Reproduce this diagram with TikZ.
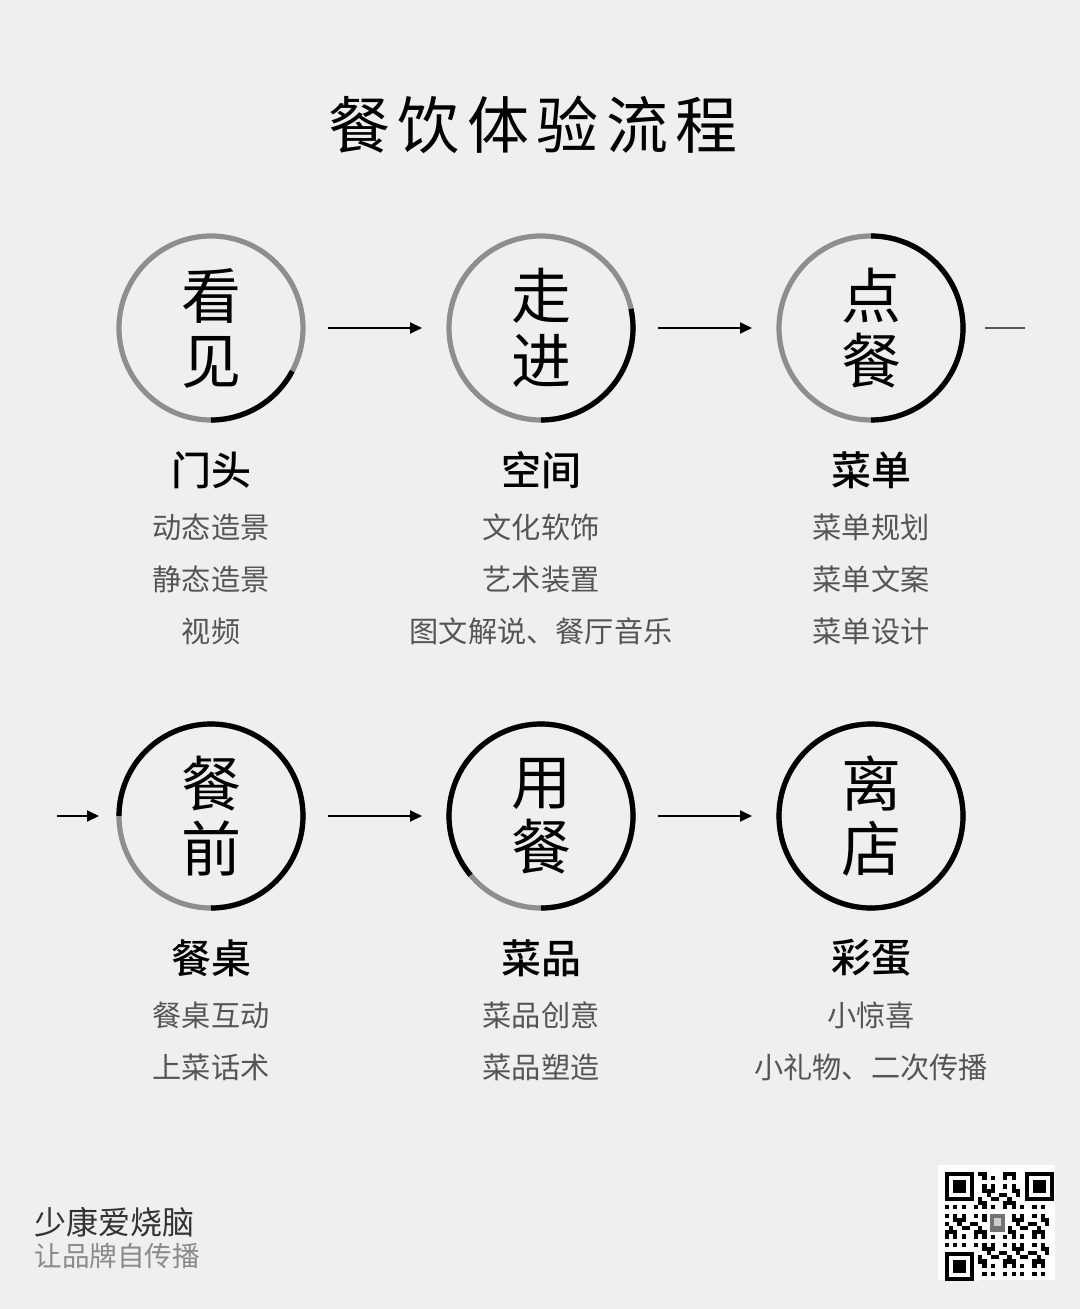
\documentclass[tikz,border=0pt]{standalone}
\usepackage{fontspec}
\setmainfont{Noto Sans CJK SC}
\newfontfamily\medfont{Noto Sans CJK SC Medium}
\usetikzlibrary{positioning, arrows.meta}
\definecolor{paper}{HTML}{EFEFEF}
\definecolor{ringgray}{HTML}{8E8E8E}
\definecolor{subgray}{HTML}{555555}
\definecolor{footgray}{HTML}{8A8A8A}

\begin{document}
\begin{tikzpicture}[x=0.5pt, y=-0.5pt,
  ring/.style={circle, draw=ringgray, line width=2.6pt, minimum size=92pt, inner sep=0pt,
    outer sep=0pt, align=center, font=\fontsize{30}{32.5}\selectfont},
  stage/.style={font=\medfont\fontsize{20}{22}\selectfont},
  item/.style={text=subgray, font=\fontsize{14.6}{16}\selectfont},
  flow/.style={line width=1pt, -{Triangle[length=6pt, width=5.5pt]}}]
\useasboundingbox[fill=paper] (0,0) rectangle (1080,1309);

% title
\node (title) at (533,125) {\fontsize{31}{34}\selectfont\addfontfeature{LetterSpace=12}餐饮体验流程};

% rings
\foreach \name/\px/\py/\ang/\txt in {c1/211/328/-28/看\\见, c2/541/328/12/走\\进, c3/871/328/90/点\\餐,
    c4/211/816/180/餐\\前, c5/541/816/220/用\\餐, c6/871/816/270/离\\店} {
  \node[ring] (\name) at (\px,\py) {\txt};
  \draw[line width=2.6pt] (\name.south) arc[start angle=-90, end angle=\ang, radius=46pt];
}

% arrows
\draw[flow, shorten <=12.5pt, shorten >=13.5pt] (c1) -- (c2);
\draw[flow, shorten <=12.5pt, shorten >=13.5pt] (c2) -- (c3);
\coordinate (stub) at (1025,328);
\draw[line width=1pt, subgray, shorten <=11pt] (c3.east) -- (stub);
\coordinate (stubin) at (57,816);
\draw[flow, shorten >=10pt] (stubin) -- (c4.west);
\draw[flow, shorten <=12.5pt, shorten >=13.5pt] (c4) -- (c5);
\draw[flow, shorten <=12.5pt, shorten >=13.5pt] (c5) -- (c6);

% stage labels and items
\node[stage] (s1) at (211,470) {门头};
\node[item] (s1a) at (211,527) {动态造景};
\node[item] (s1b) at (211,579) {静态造景};
\node[item] (s1c) at (211,631) {视频};
\node[stage] (s2) at (541,470) {空间};
\node[item] (s2a) at (541,527) {文化软饰};
\node[item] (s2b) at (541,579) {艺术装置};
\node[item] (s2c) at (541,631) {图文解说、餐厅音乐};
\node[stage] (s3) at (871,470) {菜单};
\node[item] (s3a) at (871,527) {菜单规划};
\node[item] (s3b) at (871,579) {菜单文案};
\node[item] (s3c) at (871,631) {菜单设计};
\node[stage] (s4) at (211,958) {餐桌};
\node[item] (s4a) at (211,1015) {餐桌互动};
\node[item] (s4b) at (211,1067) {上菜话术};
\node[stage] (s5) at (541,958) {菜品};
\node[item] (s5a) at (541,1015) {菜品创意};
\node[item] (s5b) at (541,1067) {菜品塑造};
\node[stage] (s6) at (871,958) {彩蛋};
\node[item] (s6a) at (871,1015) {小惊喜};
\node[item] (s6b) at (871,1067) {小礼物、二次传播};

% footer
\node[anchor=west, inner sep=0pt, text=black!80, font=\fontsize{16}{18}\selectfont] (brand) at (34,1222) {少康爱烧脑};
\node[anchor=west, inner sep=0pt, text=footgray, font=\fontsize{13.8}{16}\selectfont] (slogan) at (34,1256) {让品牌自传播};

% qr code
\fill[white] (938,1165) rectangle (1055,1280);
\foreach \i in {0,...,24} {
  \foreach \j in {0,...,24} {
    \pgfmathtruncatemacro\v{mod(\i*\i*7+\j*\j*5+\i*\j*3+\i+2*\j,7)}
    \ifnum\v<3
      \fill (945+4.16*\i,1172+4.16*\j) rectangle ++(4.16,4.16);
    \fi
  }
}
\foreach \qx/\qy in {945/1172, 1020.9/1172, 945/1247.9} {
  \fill[white] (\qx-1,\qy-1) rectangle ++(34.3,34.3);
}
\foreach \qx/\qy in {945/1172, 1024.9/1172, 945/1251.9} {
  \fill (\qx,\qy) rectangle ++(29.1,29.1);
  \fill[white] (\qx+4.16,\qy+4.16) rectangle ++(20.8,20.8);
  \fill (\qx+8.32,\qy+8.32) rectangle ++(12.5,12.5);
}
\fill[white] (987,1211) rectangle (1008,1235);
\fill[black!55] (990,1214) rectangle (1005,1232);
\fill[black!20] (994,1218) rectangle (1001,1226);
\end{tikzpicture}
\end{document}
